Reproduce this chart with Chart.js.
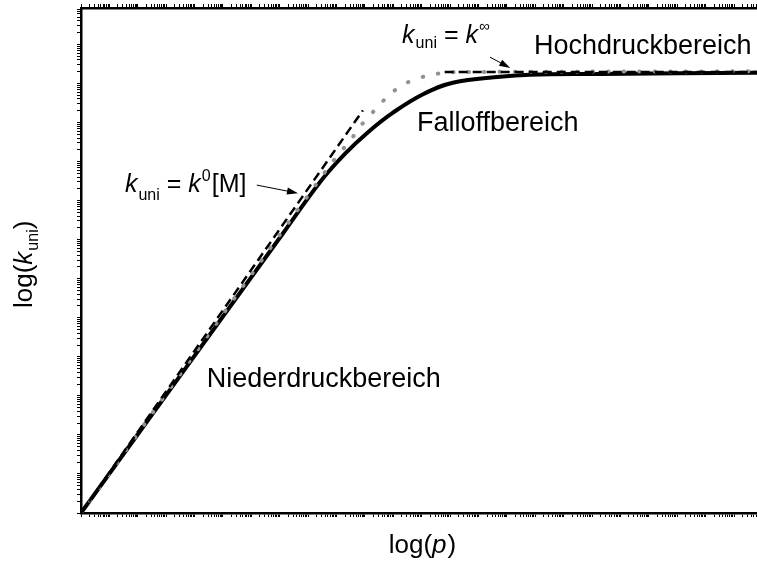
<!DOCTYPE html>
<html>
<head>
<meta charset="utf-8">
<script src="https://cdn.jsdelivr.net/npm/chart.js@4.4.0/dist/chart.umd.min.js"></script>
<style>
  html, body { margin: 0; padding: 0; background: #fff; overflow: hidden; }
  #wrap { width: 757px; height: 561px; }
</style>
</head>
<body>
<div id="wrap"><canvas id="falloff"></canvas></div>
<script>
// log(p) vs log(k_uni), arbitrary units
const pReal = [0, 3.00, 3.54, 3.90, 4.25, 4.62, 5.06, 5.50, 6.20, 6.64, 7.68, 10];
const kReal = [0, 4.17, 4.92, 5.33, 5.66, 5.95, 6.22, 6.39, 6.48, 6.51, 6.52, 6.54];

// Lindemann curve (grey dots)
const pLind = [0, 3.65, 4.01, 4.17, 4.38, 4.57, 4.82, 5.10, 5.39, 5.65, 10];
const kLind = [0, 5.12, 5.57, 5.79, 6.02, 6.22, 6.39, 6.49, 6.54, 6.55, 6.56];

// asymptotes: k0[M] at low pressure, k_inf at high pressure
const pLow = [0, 4.17];
const kLow = [0, 5.98];
const pHigh = [5.38, 10];
const kHigh = [6.55, 6.55];

// minor log ticks, one decade = step
const logSteps = [1, 2, 3, 4, 5, 6, 7, 8, 9];
const xDecade = 0.42;
const yDecade = 0.58;

const FONT = '"Liberation Sans", Arial, sans-serif';

function pts(xs, ys) {
  return xs.map((x, i) => ({ x: x, y: ys[i] }));
}

function minorTicks(max, step) {
  const out = [];
  for (let d = 0; d < max; d += step) {
    logSteps.forEach(m => {
      const v = d + Math.log10(m) * step;
      if (v <= max) out.push({ value: v });
    });
  }
  return out;
}

const axisStyle = (max, step, pos) => ({
  type: 'linear',
  position: pos,
  min: 0,
  max: max,
  afterBuildTicks: s => { s.ticks = minorTicks(max, step); },
  ticks: { display: false },
  grid: { drawOnChartArea: false, drawTicks: true, tickLength: 4, tickWidth: 1, tickColor: '#000' },
  border: { display: true, color: '#000', width: 2.5 }
});

// rich text: pieces of [text, italic, size, dy, gap]
function richText(ctx, x, y, parts) {
  let cx = x;
  parts.forEach(p => {
    ctx.font = (p[1] ? 'italic ' : '') + p[2] + 'px ' + FONT;
    ctx.fillText(p[0], cx, y + (p[3] || 0));
    cx += ctx.measureText(p[0]).width + (p[4] || 0);
  });
}

function arrow(ctx, x1, y1, x2, y2) {
  const a = Math.atan2(y2 - y1, x2 - x1);
  ctx.lineWidth = 1;
  ctx.beginPath();
  ctx.moveTo(x1, y1);
  ctx.lineTo(x2 - 8 * Math.cos(a), y2 - 8 * Math.sin(a));
  ctx.stroke();
  ctx.beginPath();
  ctx.moveTo(x2, y2);
  ctx.lineTo(x2 - 11 * Math.cos(a) + 3.5 * Math.sin(a), y2 - 11 * Math.sin(a) - 3.5 * Math.cos(a));
  ctx.lineTo(x2 - 11 * Math.cos(a) - 3.5 * Math.sin(a), y2 - 11 * Math.sin(a) + 3.5 * Math.cos(a));
  ctx.closePath();
  ctx.fill();
}

const labels = {
  id: 'labels',
  afterDraw(chart) {
    const ctx = chart.ctx;
    const X = v => chart.scales.x.getPixelForValue(v);
    const Y = v => chart.scales.y.getPixelForValue(v);
    const area = chart.chartArea;
    ctx.save();
    ctx.fillStyle = '#000';
    ctx.strokeStyle = '#000';
    ctx.textBaseline = 'alphabetic';

    ctx.font = '27px ' + FONT;
    ctx.fillText('Hochdruckbereich', X(6.70), Y(6.82));
    ctx.fillText('Falloffbereich', X(4.97), Y(5.67));
    ctx.fillText('Niederdruckbereich', X(1.86), Y(1.87));

    richText(ctx, X(0.65), Y(4.77), [
      ['k', true, 25, 0, 1], ['uni', false, 16, 8], [' = ', false, 25], ['k', true, 25, 0, 1],
      ['0', false, 16, -11, 1], ['[M]', false, 25]
    ]);
    arrow(ctx, X(2.60), Y(4.87), X(3.21), Y(4.75));

    richText(ctx, X(4.75), Y(6.98), [
      ['k', true, 25, 0, 1], ['uni', false, 16, 5], [' = ', false, 25], ['k', true, 25, 0, 1],
      ['\u221E', false, 15, -12]
    ]);
    arrow(ctx, X(6.05), Y(6.77), X(6.35), Y(6.61));

    // axis titles
    ctx.font = '26px ' + FONT;
    let w = ctx.measureText('log()').width;
    ctx.font = 'italic 26px ' + FONT;
    w += ctx.measureText('p').width;
    richText(ctx, (area.left + area.right) / 2 + 3 - w / 2, 553, [
      ['log(', false, 26], ['p', true, 26, 0, 1], [')', false, 26]
    ]);

    ctx.translate(32, 265);
    ctx.rotate(-Math.PI / 2);
    richText(ctx, -43, 0, [
      ['log(', false, 26], ['k', true, 26, 0, 1], ['uni', false, 16, 6], [')', false, 26]
    ]);
    ctx.restore();
  }
};

new Chart(document.getElementById('falloff'), {
  type: 'line',
  data: {
    datasets: [
      {
        label: 'Asymptote k0[M]',
        data: pts(pLow, kLow),
        borderColor: '#000',
        borderWidth: 2.5,
        borderDash: [9, 5],
        pointRadius: 0,
        order: 1
      },
      {
        label: 'Asymptote kinf',
        data: pts(pHigh, kHigh),
        borderColor: '#000',
        borderWidth: 2.5,
        borderDash: [9, 5],
        pointRadius: 0,
        order: 1
      },
      {
        label: 'Lindemann',
        data: pts(pLind, kLind),
        borderColor: '#929292',
        borderWidth: 4,
        borderDash: [0.5, 15],
        borderCapStyle: 'round',
        tension: 0.3,
        pointRadius: 0,
        order: 2
      },
      {
        label: 'k_uni',
        data: pts(pReal, kReal),
        borderColor: '#000',
        borderWidth: 4,
        tension: 0.4,
        pointRadius: 0,
        order: 3
      }
    ]
  },
  options: {
    responsive: true,
    maintainAspectRatio: false,
    animation: false,
    layout: { padding: { left: 77, right: 0, top: 4, bottom: 44 } },
    plugins: { legend: { display: false }, tooltip: { enabled: false } },
    scales: {
      x: axisStyle(10, xDecade, 'bottom'),
      x2: axisStyle(10, xDecade, 'top'),
      y: axisStyle(7.5, yDecade, 'left')
    }
  },
  plugins: [labels]
});
</script>
</body>
</html>
